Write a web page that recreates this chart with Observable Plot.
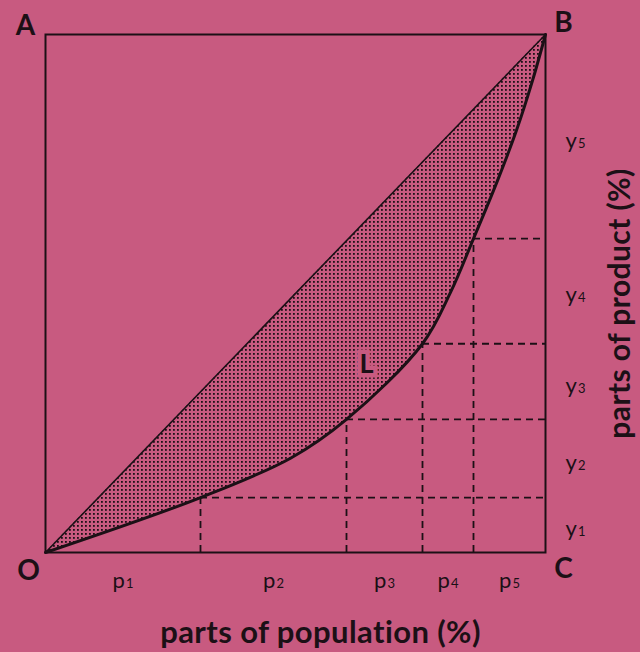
<!DOCTYPE html>
<html>
<head>
<meta charset="utf-8">
<script src="https://cdn.jsdelivr.net/npm/d3@7"></script>
<script src="https://cdn.jsdelivr.net/npm/@observablehq/plot@0.6"></script>
<style>
  html, body { margin: 0; padding: 0; background: #c85a80; }
  #chart svg { display: block; }
</style>
</head>
<body>
<div id="chart"></div>
<script>
// Shares of population (p1..p5) and of product (y1..y5), in %
const popLabels = ["p1", "p2", "p3", "p4", "p5"];
const prodLabels = ["y1", "y2", "y3", "y4", "y5"];
const popShares = [31, 29.2, 15.2, 10.2, 14.4];
const prodShares = [10.6, 15.1, 14.6, 20.3, 39.4];
// extra readings along the Lorenz curve L (cumulative %)
const extraX = [49, 81, 90.4, 94.2, 97.4];
const extraY = [18.2, 50.2, 71.8, 81.5, 91.1];

const cumPop = d3.cumsum(popShares);
const cumProd = d3.cumsum(prodShares);
const breaks = d3.range(4).map(i => ({x: cumPop[i], y: cumProd[i]}));
const curve = [{x: 0, y: 0}]
  .concat(d3.range(5).map(i => ({x: cumPop[i], y: cumProd[i]})))
  .concat(extraX.map((x, i) => ({x, y: extraY[i]})))
  .sort((a, b) => a.x - b.x);
const popMid = popLabels.map((l, i) => ({label: l, x: (i ? cumPop[i - 1] : 0) + popShares[i] / 2}));
const prodMid = prodLabels.map((l, i) => ({label: l, y: (i ? cumProd[i - 1] : 0) + prodShares[i] / 2}));

const bg = "#c85a80";
const ink = "#1c1016";
const font = "Lato, 'Open Sans', sans-serif";
const corner = (label, x, y, dx, dy) =>
  Plot.text([label], {x: () => x, y: () => y, text: d => d, dx, dy, fontSize: 28, fontWeight: "bold", fill: ink});

const plot = Plot.plot({
  width: 640,
  height: 652,
  marginLeft: 45,
  marginRight: 95,
  marginTop: 34,
  marginBottom: 100,
  style: {background: bg, fontFamily: font, color: ink},
  x: {domain: [0, 100], axis: null},
  y: {domain: [0, 100], axis: null},
  marks: [
    Plot.areaY(curve, {x: "x", y1: "y", y2: d => d.x, curve: "catmull-rom", fill: ink, className: "dotted"}),
    Plot.text([breaks[1]], {x: "x", y: "y", text: () => "L", dx: 20, dy: -55, fontSize: 27, fontWeight: "bold",
      fill: ink, stroke: bg, strokeWidth: 9, strokeLinejoin: "miter"}),
    Plot.ruleX(breaks, {x: "x", y1: 0, y2: "y", stroke: ink, strokeWidth: 1.8, strokeDasharray: "7,5"}),
    Plot.ruleY(breaks, {y: "y", x1: "x", x2: 100, stroke: ink, strokeWidth: 1.8, strokeDasharray: "7,5"}),
    Plot.frame({stroke: ink, strokeWidth: 2}),
    Plot.line([{x: 0, y: 0}, {x: 100, y: 100}], {x: "x", y: "y", stroke: ink, strokeWidth: 1.6}),
    Plot.line(curve, {x: "x", y: "y", curve: "catmull-rom", stroke: ink, strokeWidth: 3}),
    Plot.text(popMid, {x: "x", y: 0, text: "label", dy: 28, fontSize: 22, fill: ink, className: "sub"}),
    Plot.text(prodMid, {x: 100, y: "y", text: "label", dx: 30, dy: 4, fontSize: 22, fill: ink, className: "sub"}),
    corner("A", 0, 100, -20, -8),
    corner("B", 100, 100, 18, -11),
    corner("O", 0, 0, -17, 19),
    corner("C", 100, 0, 18, 17),
    Plot.text(["parts of population (%)"], {frameAnchor: "bottom", textAnchor: "middle", lineAnchor: "bottom",
      dx: 25, dy: 90, fontSize: 31, fontWeight: "bold", fill: ink, className: "title"}),
    Plot.text(["parts of product (%)"], {frameAnchor: "right", textAnchor: "middle", lineAnchor: "bottom",
      dx: 84, dy: 10, rotate: -90, fontSize: 30, fontWeight: "bold", fill: ink, className: "title"})
  ]
});

const svg = d3.select(plot);
// dot pattern for the shaded area
const defs = svg.insert("defs", ":first-child");
const pat = defs.append("pattern").attr("id", "dots").attr("patternUnits", "userSpaceOnUse")
  .attr("width", 4).attr("height", 4);
pat.append("rect").attr("x", 1).attr("y", 1).attr("width", 1.8).attr("height", 1.8).attr("fill", ink);
svg.selectAll(".dotted path").attr("fill", "url(#dots)");
svg.selectAll(".title text").style("letter-spacing", "0.4px");

// small digits after p / y
svg.selectAll(".sub text").each(function () {
  const m = /^([a-z])(\d)$/.exec(this.textContent);
  if (!m) return;
  const el = d3.select(this);
  el.text(null);
  el.append("tspan").text(m[1]);
  el.append("tspan").attr("font-size", 13).attr("dx", 1).text(m[2]);
});

document.getElementById("chart").appendChild(plot);
</script>
</body>
</html>
